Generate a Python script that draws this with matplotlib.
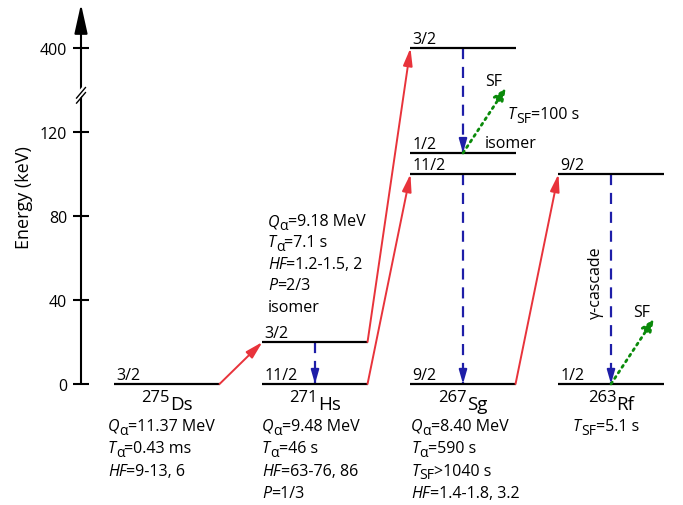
import re
import numpy as np
import matplotlib
matplotlib.use("Agg")
import matplotlib.pyplot as plt

FONT = "Open Sans"
plt.rcParams['font.family'] = [FONT, 'DejaVu Sans']

# ---------------- data ----------------
nuclide_mass = ["275", "271", "267", "263"]
nuclide_sym = ["Ds", "Hs", "Sg", "Rf"]
level_energies = [[0], [0, 20], [0, 100, 110, 400], [0, 100]]
level_spins = [["3/2"], ["11/2", "3/2"], ["9/2", "11/2", "1/2", "3/2"], ["1/2", "9/2"]]

# alpha decays: parent column/energy -> daughter column/energy
alpha_from_col = [0, 1, 1, 2]
alpha_from_E = [0, 0, 20, 0]
alpha_to_col = [1, 2, 2, 3]
alpha_to_E = [20, 100, 400, 100]

# gamma transitions
gamma_col = [1, 2, 2, 3]
gamma_from = [20, 400, 100, 100]
gamma_to = [0, 110, 0, 0]

# spontaneous fission branches
sf_col = [2, 3]
sf_E = [110, 0]

tick_values = [0, 40, 80, 120, 400]
tick_labels = ["0", "40", "80", "120", "400"]

# markup: {i:..} italic, {s:..} subscript
info_lines = [
    ["{i:Q}{s:α}=11.37 MeV", "{i:T}{s:α}=0.43 ms", "{i:HF}=9-13, 6"],
    ["{i:Q}{s:α}=9.48 MeV", "{i:T}{s:α}=46 s", "{i:HF}=63-76, 86", "{i:P}=1/3"],
    ["{i:Q}{s:α}=8.40 MeV", "{i:T}{s:α}=590 s", "{i:T}{s:SF}>1040 s", "{i:HF}=1.4-1.8, 3.2"],
    ["{i:T}{s:SF}=5.1 s"],
]
isomer_lines = ["{i:Q}{s:α}=9.18 MeV", "{i:T}{s:α}=7.1 s", "{i:HF}=1.2-1.5, 2", "{i:P}=2/3", "isomer"]
sg_isomer_tsf = "{i:T}{s:SF}=100 s"

# ---------------- broken energy scale ----------------
BRK = 130.0
F = 9.0


def fwd(E):
    E = np.asarray(E, dtype=float)
    return np.where(E <= BRK, E, BRK + (E - BRK) / F)


def inv(d):
    d = np.asarray(d, dtype=float)
    return np.where(d <= BRK, d, BRK + (d - BRK) * F)


W, H = 683, 506
DPI = 100
fig = plt.figure(figsize=(W / DPI, H / DPI), dpi=DPI)
ax = fig.add_axes([81 / W, (H - 385) / H, (W - 81) / W, (385 - 5) / H])
ax.set_yscale('function', functions=(fwd, inv))
x0 = (81 - 167) / 148.0
x1 = (683 - 167) / 148.0
ax.set_xlim(x0, x1)
ax.set_ylim(0, float(inv(181)))
for s in ax.spines.values():
    s.set_visible(False)
ax.set_xticks([])
ax.set_yticks(tick_values)
ax.set_yticklabels(tick_labels)
ax.yaxis.set_minor_locator(matplotlib.ticker.NullLocator())
ax.tick_params(axis='y', direction='inout', length=12, width=1.5, labelsize=11.5, pad=4)

FS = 11.5


def rich(x, y, markup, size=FS):
    tokens = []
    pos = 0
    for m in re.finditer(r"\{([is]):([^}]*)\}", markup):
        if m.start() > pos:
            tokens.append((markup[pos:m.start()], 'r'))
        tokens.append((m.group(2), m.group(1)))
        pos = m.end()
    if pos < len(markup):
        tokens.append((markup[pos:], 'r'))
    arts = []
    for txt, kind in tokens:
        style = 'italic' if kind == 'i' else 'normal'
        fs = size * 0.88 if kind == 's' else size
        dy = -2.6 if kind == 's' else 0
        if not arts:
            t = ax.annotate(txt, xy=(x, y), xycoords='data', xytext=(0, dy), textcoords='offset points',
                            ha='left', va='baseline', fontsize=fs, fontstyle=style, annotation_clip=False)
        else:
            t = ax.annotate(txt, xy=(1, y), xycoords=(arts[-1], 'data'), xytext=(0, dy),
                            textcoords='offset points', ha='left', va='baseline', fontsize=fs,
                            fontstyle=style, annotation_clip=False)
        arts.append(t)
    return arts


# axis line with arrow
ax.annotate('', xy=(0, 1), xytext=(0, 0), xycoords='axes fraction',
            arrowprops=dict(arrowstyle='-|>,head_length=0.9,head_width=0.2', lw=1.5,
                            color='black', mutation_scale=20, shrinkA=0, shrinkB=0))
# break mark
d = 0.03
ax.plot([x0 - d, x0 + d], [float(inv(136.3)), float(inv(141.3))], color='white', lw=4, clip_on=False, zorder=5,
        solid_capstyle='butt')
for off in (-1.2, 1.2):
    ax.plot([x0 - d, x0 + d], [float(inv(135.0 + off)), float(inv(140.0 + off))], color='black', lw=1.0,
            clip_on=False, zorder=6)

fig.text(24 / W, 1 - 198 / H, "Energy (keV)", rotation=90, ha='center', va='center', fontsize=13)

HW = 0.355
red = '#e8333b'
blue = '#1e1ea8'
green = '#0a8a0a'

# levels
for c, (Es, spins) in enumerate(zip(level_energies, level_spins)):
    for E, sp in zip(Es, spins):
        ax.plot([c - HW, c + HW], [E, E], color='black', lw=1.6, clip_on=False, solid_capstyle='butt', zorder=3)
        ax.annotate(sp, (c - HW, E), xytext=(1.5, 1), textcoords='offset points', ha='left', va='bottom',
                    fontsize=FS, annotation_clip=False)

# alpha decays
for fc, fE, tc, tE in zip(alpha_from_col, alpha_from_E, alpha_to_col, alpha_to_E):
    ax.annotate('', xy=(tc - HW, tE), xytext=(fc + HW, fE), annotation_clip=False,
                arrowprops=dict(arrowstyle='-|>,head_length=0.75,head_width=0.2', color=red, lw=1.4,
                                mutation_scale=14, shrinkA=0, shrinkB=0))

# gamma transitions
for c, fE, tE in zip(gamma_col, gamma_from, gamma_to):
    ax.plot([c, c], [fE, tE], color=blue, lw=1.6, ls=(0, (5, 3.5)), clip_on=False, zorder=2)
    yb = float(inv(float(fwd(tE)) + 5))
    ax.annotate('', xy=(c, tE), xytext=(c, yb), annotation_clip=False,
                arrowprops=dict(arrowstyle='-|>,head_length=0.7,head_width=0.2', color=blue, lw=1.4,
                                mutation_scale=12, shrinkA=0, shrinkB=0))

# SF branches
sf_dx = 0.29
sf_dd = 31
for c, E in zip(sf_col, sf_E):
    tip = float(inv(float(fwd(E)) + sf_dd))
    ax.annotate('', xy=(c + sf_dx, tip), xytext=(c, E), annotation_clip=False,
                arrowprops=dict(arrowstyle='-|>,head_length=0.7,head_width=0.3', color=green, lw=2.0,
                                ls=(0, (0.8, 1.6)), mutation_scale=11, shrinkA=0, shrinkB=0))
    ax.text(c + sf_dx - 0.085, float(inv(float(fwd(E)) + sf_dd + 3.2)), "SF", ha='center', va='center',
            fontsize=FS)

# extra annotations
rich(2.304, float(inv(126.7)), sg_isomer_tsf)
ax.text(2.149, float(inv(112.9)), "isomer", ha='left', va='baseline', fontsize=FS)
ax.text(2.895, 48.5, "\u03b3-cascade", rotation=90, ha='center', va='center', fontsize=FS)

# nuclide labels
nuc_arts = []
for c, (mass, sym) in enumerate(zip(nuclide_mass, nuclide_sym)):
    a = ax.annotate(mass, xy=(c, -11.9), xycoords='data', xytext=(0, 5.5), textcoords='offset points',
                    ha='left', va='baseline', fontsize=12, annotation_clip=False)
    b = ax.annotate(sym, xy=(1, -11.9), xycoords=(a, 'data'), xytext=(0, 0), textcoords='offset points',
                    ha='left', va='baseline', fontsize=13.5, annotation_clip=False)
    nuc_arts.append((a, b))

# info lines
info_x = [-0.399, 0.642, 1.649, 2.743]
for c, lines in enumerate(info_lines):
    for i, ln in enumerate(lines):
        rich(info_x[c], -21.9 - 10.65 * i, ln)

for i, ln in enumerate(isomer_lines):
    rich(0.682, 75.7 - 10.2 * i, ln)

# center nuclide labels
fig.canvas.draw()
r = fig.canvas.get_renderer()
for a, b in nuc_arts:
    w = b.get_window_extent(r).x1 - a.get_window_extent(r).x0
    a.xyann = (-w / 2 * 72 / DPI, 5.5)

fig.savefig("out.png", dpi=DPI)
